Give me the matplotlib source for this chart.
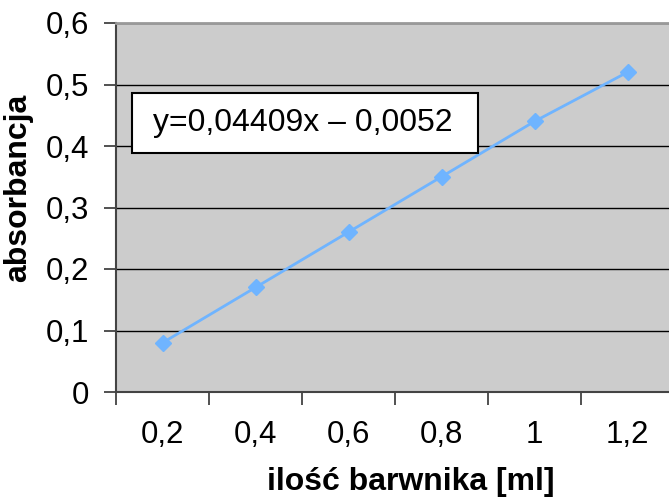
import matplotlib.pyplot as plt
from matplotlib.patches import Rectangle
import numpy as np

plt.rcParams['font.family'] = ['Liberation Sans', 'DejaVu Sans']

# dye volume categories and measured absorbance
categories = ['0,2', '0,4', '0,6', '0,8', '1', '1,2']
absorbance = [0.08, 0.17, 0.26, 0.35, 0.44, 0.52]
y_ticks = [0, 0.1, 0.2, 0.3, 0.4, 0.5, 0.6]
y_tick_labels = ['0', '0,1', '0,2', '0,3', '0,4', '0,5', '0,6']

fig = plt.figure(figsize=(6.69, 4.99), dpi=100)
# plot area runs slightly past the right edge of the figure
ax = fig.add_axes([116 / 669, 107 / 499, 558 / 669, 369 / 499])
ax.set_facecolor('#cccccc')

x = np.arange(len(categories))
ax.plot(x, absorbance, color='#6fb4ff', lw=2, marker='D', ms=8.5,
        mec='#6fb4ff', mfc='#6fb4ff', zorder=3)

ax.set_xlim(-0.5, len(categories) - 0.5)
ax.set_ylim(0, 0.6)
ax.set_yticks(y_ticks)
ax.set_yticklabels(y_tick_labels, fontsize=22.5)
ax.set_xticks(x)
ax.set_xticklabels(categories, fontsize=22.5)
ax.tick_params(axis='x', length=0, pad=20)
ax.tick_params(axis='y', length=9, width=1.2, color='#333333', pad=10)

# category boundary ticks below the axis
ax.set_xticks(np.arange(-0.5, len(categories)), minor=True)
ax.tick_params(axis='x', which='minor', length=9, width=1.2, color='#333333')

ax.grid(axis='y', color='black', lw=1)
ax.set_axisbelow(True)
for s in ['left', 'bottom']:
    ax.spines[s].set_color('#444444')
    ax.spines[s].set_linewidth(1.5)
ax.spines['top'].set_color('#999999')
ax.spines['top'].set_linewidth(2)
ax.spines['right'].set_visible(False)

fig.text(18 / 669, 1 - 188 / 499, 'absorbancja', fontsize=23, rotation=90,
         fontweight='bold', ha='center', va='center')
fig.text(411 / 669, 1 - 482 / 499, 'ilość barwnika [ml]', fontsize=23,
         fontweight='bold', ha='center', va='center')

# trendline equation box
ax.add_patch(Rectangle((0.0287, 0.6477), 0.6203, 0.1623, transform=ax.transAxes,
                       fc='white', ec='black', lw=1.5, zorder=4))
ax.text(0.0663, 0.729, 'y=0,04409x – 0,0052', transform=ax.transAxes,
        fontsize=23, ha='left', va='center', zorder=5)

fig.savefig('out.png', dpi=100)
